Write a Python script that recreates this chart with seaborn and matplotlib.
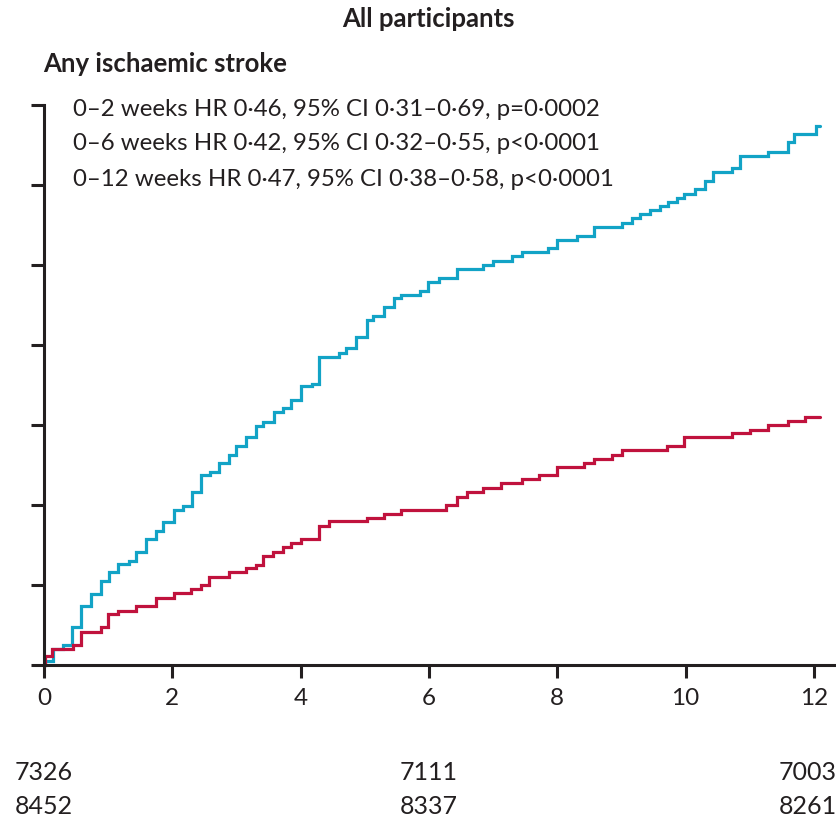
import numpy as np
import pandas as pd
import matplotlib
matplotlib.use("Agg")
import matplotlib.pyplot as plt
import seaborn as sns

# Cumulative incidence (%) of any ischaemic stroke, step times in weeks
placebo_weeks = [0.00, 0.02, 0.14, 0.30, 0.44, 0.57, 0.73, 0.89, 1.02, 1.16, 1.33, 1.43, 1.59,
                 1.75, 1.86, 2.02, 2.17, 2.30, 2.45, 2.58, 2.72, 2.88, 3.00, 3.15, 3.31, 3.41,
                 3.58, 3.73, 3.85, 4.01, 4.17, 4.29, 4.60, 4.71, 4.87, 5.03, 5.13, 5.30, 5.45,
                 5.57, 5.86, 5.99, 6.15, 6.43, 6.85, 7.00, 7.29, 7.45, 7.86, 8.00, 8.31, 8.58,
                 9.01, 9.17, 9.29, 9.44, 9.60, 9.72, 9.87, 9.98, 10.14, 10.30, 10.42, 10.73,
                 10.85, 11.28, 11.59, 11.69, 12.03, 12.10]
placebo_risk = [0.000, 0.027, 0.100, 0.127, 0.239, 0.367, 0.446, 0.527, 0.583, 0.631, 0.652,
                0.708, 0.788, 0.839, 0.896, 0.971, 0.996, 1.079, 1.188, 1.204, 1.261, 1.313,
                1.367, 1.423, 1.496, 1.521, 1.579, 1.604, 1.658, 1.742, 1.756, 1.923, 1.948,
                1.979, 2.048, 2.158, 2.183, 2.236, 2.292, 2.313, 2.338, 2.392, 2.417, 2.475,
                2.500, 2.527, 2.558, 2.583, 2.604, 2.656, 2.683, 2.739, 2.763, 2.792, 2.819,
                2.846, 2.871, 2.892, 2.919, 2.944, 2.975, 3.027, 3.083, 3.104, 3.179, 3.208,
                3.267, 3.319, 3.371, 3.371]

treated_weeks = [0.00, 0.02, 0.13, 0.45, 0.57, 0.89, 0.99, 1.15, 1.43, 1.75, 2.02, 2.29, 2.45,
                 2.57, 2.88, 3.15, 3.31, 3.42, 3.57, 3.73, 3.85, 4.01, 4.28, 4.44, 5.03, 5.30,
                 5.57, 6.27, 6.43, 6.59, 6.85, 7.13, 7.45, 7.72, 8.00, 8.42, 8.58, 8.85, 9.01,
                 9.71, 9.98, 10.73, 11.00, 11.28, 11.59, 11.86, 12.10]
treated_risk = [0.000, 0.058, 0.100, 0.127, 0.208, 0.239, 0.319, 0.339, 0.367, 0.419, 0.448,
                0.475, 0.500, 0.552, 0.583, 0.606, 0.627, 0.679, 0.708, 0.736, 0.763, 0.788,
                0.871, 0.898, 0.917, 0.944, 0.971, 1.000, 1.052, 1.079, 1.106, 1.136, 1.163,
                1.188, 1.236, 1.261, 1.288, 1.314, 1.344, 1.371, 1.423, 1.450, 1.471, 1.500,
                1.523, 1.552, 1.552]

x_ticks = [0, 2, 4, 6, 8, 10, 12]
risk_weeks = [0, 6, 12]
at_risk_placebo = ["7326", "7111", "7003"]
at_risk_treated = ["8452", "8337", "8261"]

hr_lines = [
    "0\u20132 weeks HR 0\u00b746, 95% CI 0\u00b731\u20130\u00b769, p=0\u00b70002",
    "0\u20136 weeks HR 0\u00b742, 95% CI 0\u00b732\u20130\u00b755, p<0\u00b70001",
    "0\u201312 weeks HR 0\u00b747, 95% CI 0\u00b738\u20130\u00b758, p<0\u00b70001",
]

BLUE = "#12a3c6"
RED = "#c0123d"
INK = "#231f20"

sns.set_theme(style="white")
plt.rcParams["font.family"] = ["Lato", "DejaVu Sans"]

df = pd.concat([
    pd.DataFrame({"weeks": placebo_weeks, "risk": placebo_risk, "group": "Placebo"}),
    pd.DataFrame({"weeks": treated_weeks, "risk": treated_risk, "group": "Treatment"}),
], ignore_index=True)

fig = plt.figure(figsize=(8.37, 8.20), dpi=100)
ax = fig.add_axes([44 / 837, 1 - 666 / 820, 1 - 44 / 837, (666 - 106) / 820])

sns.lineplot(data=df, x="weeks", y="risk", hue="group", palette={"Placebo": BLUE, "Treatment": RED},
             drawstyle="steps-post", estimator=None, linewidth=2.3, legend=False, ax=ax)
for ln in ax.lines:
    ln.set_clip_on(False)
    ln.set_solid_joinstyle("miter")

ax.set_xlim(0, 12.36)
ax.set_ylim(0, 3.5)
ax.set_xticks(x_ticks)
ax.set_xticklabels([str(t) for t in x_ticks])
ax.set_yticks(np.arange(0, 3.51, 0.5))
ax.set_yticklabels([])
ax.set_xlabel("")
ax.set_ylabel("")

for side in ("top", "right"):
    ax.spines[side].set_visible(False)
for side in ("left", "bottom"):
    ax.spines[side].set_color(INK)
    ax.spines[side].set_linewidth(2.2)
ax.tick_params(axis="both", which="major", direction="out", color=INK, width=2.2,
               length=9.5, labelsize=17.5, labelcolor=INK, bottom=True, left=True, pad=6)

# Hazard ratio annotations
for i, line in enumerate(hr_lines):
    fig.text(73 / 837, 1 - (109 + 35 * i) / 820, line, ha="left", va="center",
             fontsize=17.3, color=INK)

fig.text(428 / 837, 1 - 19 / 820, "All participants", ha="center", va="center",
         fontsize=18.5, fontweight="bold", color=INK)
fig.text(43 / 837, 1 - 64 / 820, "Any ischaemic stroke", ha="left", va="center",
         fontsize=18.5, fontweight="bold", color=INK)

# Numbers at risk (last column kept inside the right edge)
trans = ax.get_xaxis_transform()
for wk, a, b in zip(risk_weeks, at_risk_placebo, at_risk_treated):
    ha = "right" if wk == risk_weeks[-1] else "center"
    xpos = 12.36 if wk == risk_weeks[-1] else wk
    ax.text(xpos, -(772 - 666) / 560, a, transform=trans, ha=ha, va="center",
            fontsize=18, color=INK, clip_on=False)
    ax.text(xpos, -(807 - 666) / 560, b, transform=trans, ha=ha, va="center",
            fontsize=18, color=INK, clip_on=False)

fig.savefig("out.png", dpi=100)
